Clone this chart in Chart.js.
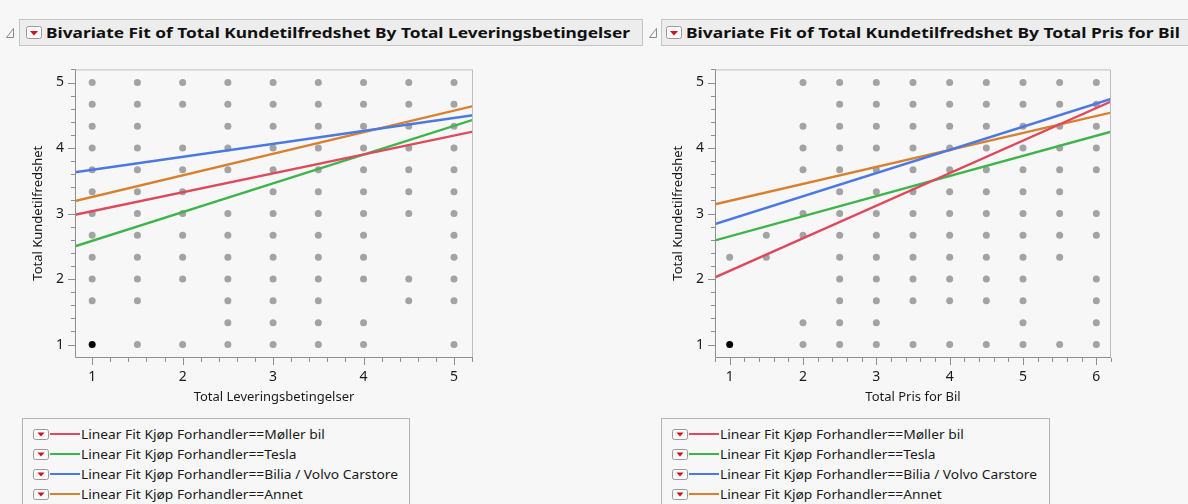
<!DOCTYPE html>
<html><head><meta charset="utf-8">
<script src="https://cdn.jsdelivr.net/npm/chart.js@4.4.1/dist/chart.umd.min.js"></script>
<style>
body{margin:0;width:1188px;height:504px;overflow:hidden;background:#f7f7f7;font-family:"Noto Sans",sans-serif;position:relative}
.hdr{position:absolute;top:19px;height:27px;border:1px solid #c4c4c4;background:#ededed;box-sizing:border-box}
.ttl{position:absolute;top:20px;height:25px;line-height:25px;font-weight:bold;font-size:15px;white-space:nowrap;transform-origin:0 50%;color:#111}
.ico{position:absolute}
.cv{position:absolute;top:50px}
.leg{position:absolute;top:418px;height:100px;border:1px solid #b4b4b4;box-sizing:border-box;background:#f7f7f7}
.row{position:absolute;left:0;height:20px;width:100%}
.row svg{position:absolute;left:10px;top:5px}
.row .ln{position:absolute;left:27px;top:9px;width:30px;height:2px}
.row span{position:absolute;left:58px;top:0;line-height:20px;font-size:13px;color:#1a1a1a;white-space:nowrap;transform-origin:0 50%}
</style></head><body>

<svg class="ico" style="left:5px;top:27px" width="10" height="12"><path d="M1.5 10.5 L8.5 1.5 L8.5 10.5 Z" fill="none" stroke="#8a8a8a" stroke-width="1"/></svg>
<div class="hdr" style="left:19px;width:624px"></div>
<svg class="ico" style="left:26px;top:26px" width="17" height="14"><rect x="0.5" y="0.5" width="15" height="12" rx="2" fill="#fafafa" stroke="#9a9a9a"/><path d="M4 5 L12 5 L8 9.5 Z" fill="#d0101a"/></svg>
<div class="ttl" id="t1" style="left:46px">Bivariate Fit of Total Kundetilfredshet By Total Leveringsbetingelser</div>

<svg class="ico" style="left:648px;top:27px" width="10" height="12"><path d="M1.5 10.5 L8.5 1.5 L8.5 10.5 Z" fill="none" stroke="#8a8a8a" stroke-width="1"/></svg>
<div class="hdr" style="left:661px;width:540px"></div>
<svg class="ico" style="left:666px;top:26px" width="17" height="14"><rect x="0.5" y="0.5" width="15" height="12" rx="2" fill="#fafafa" stroke="#9a9a9a"/><path d="M4 5 L12 5 L8 9.5 Z" fill="#d0101a"/></svg>
<div class="ttl" id="t2" style="left:686px">Bivariate Fit of Total Kundetilfredshet By Total Pris for Bil</div>

<canvas id="c1" class="cv" style="left:0px" width="490" height="360"></canvas>
<canvas id="c2" class="cv" style="left:640px" width="490" height="360"></canvas>

<div class="leg" id="leg1" style="left:22px;width:388px"></div>
<div class="leg" id="leg2" style="left:661px;width:389px"></div>

<script>
// ---------- data ----------
const yLevels = [5, 4.667, 4.333, 4, 3.667, 3.333, 3, 2.667, 2.333, 2, 1.667, 1.333, 1];

// x values present in each y row (Total Leveringsbetingelser)
const leftRows = [
  [1, 1.5, 2, 2.5, 3, 3.5, 4, 4.5, 5],
  [1, 1.5, 2, 2.5, 3, 3.5, 4, 4.5, 5],
  [1, 1.5, 2.5, 3, 3.5, 4, 4.5, 5],
  [1, 1.5, 2, 2.5, 3, 3.5, 4, 4.5, 5],
  [1, 1.5, 2, 2.5, 3, 3.5, 4, 4.5, 5],
  [1, 1.5, 2, 3, 3.5, 4, 4.5, 5],
  [1, 1.5, 2, 2.5, 3, 3.5, 4, 4.5, 5],
  [1, 1.5, 2, 2.5, 3, 3.5, 4, 5],
  [1, 1.5, 2, 2.5, 3, 3.5, 4, 5],
  [1, 1.5, 2, 2.5, 3, 3.5, 4, 4.5, 5],
  [1, 1.5, 2.5, 3, 3.5, 4.5, 5],
  [2.5, 3, 3.5, 4],
  [1.5, 2, 2.5, 3, 3.5, 4, 5]
];

// x values present in each y row (Total Pris for Bil)
const rightRows = [
  [2, 2.5, 3, 3.5, 4, 4.5, 5, 5.5, 6],
  [2.5, 3, 3.5, 4, 4.5, 5, 5.5, 6],
  [2, 2.5, 3, 3.5, 4, 4.5, 5, 5.5, 6],
  [2, 2.5, 3, 3.5, 4, 4.5, 5, 5.5, 6],
  [2, 2.5, 3, 3.5, 4, 4.5, 5, 5.5, 6],
  [2.5, 3, 3.5, 4, 4.5, 5, 5.5],
  [2, 2.5, 3, 3.5, 4, 4.5, 5, 5.5, 6],
  [1.5, 2, 2.5, 3, 3.5, 4, 4.5, 5, 5.5, 6],
  [1, 1.5, 2.5, 3, 3.5, 4, 4.5, 5, 5.5],
  [2.5, 3, 3.5, 4, 4.5, 5, 6],
  [2.5, 3, 3.5, 4, 4.5, 5, 6],
  [2, 2.5, 3, 5, 6],
  [2, 2.5, 3, 3.5, 4, 4.5, 5, 5.5, 6]
];

const selectedPoint = [{x: 1, y: 1}];

const fitNames = ['Møller bil', 'Tesla', 'Bilia / Volvo Carstore', 'Annet'];
const fitColors = ['#de4a5c', '#3db54a', '#4a78e4', '#d8802e'];

const leftFitX = [0.81, 5.21];
const leftFitY = [[2.98, 4.25], [2.50, 4.43], [3.63, 4.50], [3.19, 4.64]];
const rightFitX = [0.80, 6.2];
const rightFitY = [[2.025, 4.71], [2.59, 4.25], [2.84, 4.75], [3.14, 4.54]];

const leftXRange = [0.81, 5.21];
const rightXRange = [0.80, 6.2];
const yRange = [0.81, 5.2];

const leftXTicks = [1, 2, 3, 4, 5];
const rightXTicks = [1, 2, 3, 4, 5, 6];
const yTicks = [1, 2, 3, 4, 5];

const yTitle = 'Total Kundetilfredshet';
const leftXTitle = 'Total Leveringsbetingelser';
const rightXTitle = 'Total Pris for Bil';

// ---------- build ----------
function rowsToPoints(rows) {
  const pts = [];
  rows.forEach((xs, i) => xs.forEach(x => pts.push({x: x, y: yLevels[i]})));
  return pts;
}

const frameTicks = {
  id: 'frameTicks',
  afterDraw(chart) {
    const {ctx, chartArea: a, scales: {x, y}} = chart;
    ctx.save();
    ctx.lineWidth = 1;
    ctx.strokeStyle = '#bdbdbd';
    ctx.beginPath();
    ctx.moveTo(a.left, a.top + 0.5); ctx.lineTo(a.right - 0.5, a.top + 0.5); ctx.lineTo(a.right - 0.5, a.bottom);
    ctx.stroke();
    ctx.strokeStyle = '#8f8f8f';
    ctx.beginPath();
    ctx.moveTo(a.left + 0.5, a.top); ctx.lineTo(a.left + 0.5, a.bottom + 0.5); ctx.lineTo(a.right, a.bottom + 0.5);
    ctx.stroke();
    ctx.beginPath();
    for (let k = Math.ceil(x.min * 5 - 1e-9); k <= Math.floor(x.max * 5 + 1e-9); k++) {
      const px = Math.round(x.getPixelForValue(k / 5)) + 0.5;
      const len = (k % 5 === 0) ? 7 : 4;
      ctx.moveTo(px, a.bottom + 1); ctx.lineTo(px, a.bottom + 1 + len);
    }
    for (let k = Math.ceil(y.min * 5 - 1e-9); k <= Math.floor(y.max * 5 + 1e-9); k++) {
      const py = Math.round(y.getPixelForValue(k / 5)) + 0.5;
      const len = (k % 5 === 0) ? 7 : 4;
      ctx.moveTo(a.left, py); ctx.lineTo(a.left - len, py);
    }
    ctx.stroke();
    ctx.restore();
  }
};

function makeChart(id, rows, fitX, fitY, xRange, xTicks, xTitle, rightPad) {
  const datasets = [];
  fitY.forEach((ys, i) => datasets.push({
    type: 'line', label: fitNames[i],
    data: [{x: fitX[0], y: ys[0]}, {x: fitX[1], y: ys[1]}],
    borderColor: fitColors[i], borderWidth: 2.4, pointRadius: 0, fill: false, order: 0
  }));
  datasets.push({
    type: 'scatter', label: 'selected', data: selectedPoint,
    backgroundColor: '#000', borderColor: '#000', pointRadius: 3.5, borderWidth: 0, order: 1
  });
  datasets.push({
    type: 'scatter', label: 'points', data: rowsToPoints(rows),
    backgroundColor: '#a3a3a3', borderColor: '#a3a3a3', pointRadius: 3.5, borderWidth: 0, order: 2
  });
  const tickFont = {family: 'Noto Sans', size: 14};
  const titleFont = {family: 'Noto Sans', size: 13};
  return new Chart(document.getElementById(id), {
    type: 'scatter',
    data: {datasets},
    options: {
      responsive: false, animation: false,
      layout: {padding: {top: 8, right: rightPad, left: 0, bottom: 0}},
      plugins: {legend: {display: false}, tooltip: {enabled: false}},
      scales: {
        x: {
          type: 'linear', min: xRange[0], max: xRange[1],
          afterBuildTicks(s) { s.ticks = xTicks.map(v => ({value: v})); },
          afterFit(s) { s.height = 53; },
          grid: {display: false, drawTicks: false}, border: {display: false},
          ticks: {autoSkip: false, maxRotation: 0, padding: 12, font: tickFont, color: '#1a1a1a', callback: v => String(v)},
          title: {display: true, text: xTitle, font: titleFont, color: '#1a1a1a', padding: {top: 2, bottom: 5}}
        },
        y: {
          type: 'linear', min: yRange[0], max: yRange[1],
          afterBuildTicks(s) { s.ticks = yTicks.map(v => ({value: v})); },
          afterFit(s) { s.width = 75; },
          grid: {display: false, drawTicks: false}, border: {display: false},
          ticks: {autoSkip: false, padding: 11, font: tickFont, color: '#1a1a1a', callback: v => String(v)},
          title: {display: true, text: yTitle, font: titleFont, color: '#1a1a1a', padding: {top: 30, bottom: 2}}
        }
      }
    },
    plugins: [frameTicks]
  });
}

makeChart('c1', leftRows, leftFitX, leftFitY, leftXRange, leftXTicks, leftXTitle, 17);
makeChart('c2', rightRows, rightFitX, rightFitY, rightXRange, rightXTicks, rightXTitle, 19);

// ---------- legends ----------
function buildLegend(id) {
  const box = document.getElementById(id);
  fitNames.forEach((n, i) => {
    const r = document.createElement('div');
    r.className = 'row';
    r.style.top = (5 + i * 20) + 'px';
    r.innerHTML = '<svg width="17" height="11"><rect x="0.5" y="0.5" width="15" height="10" rx="2" fill="#fafafa" stroke="#9a9a9a"/><path d="M4.5 3.5 L11.5 3.5 L8 7.5 Z" fill="#d0101a"/></svg>' +
      '<div class="ln" style="background:' + fitColors[i] + '"></div>' +
      '<span>Linear Fit Kjøp Forhandler==' + n + '</span>';
    box.appendChild(r);
  });
}
buildLegend('leg1');
buildLegend('leg2');

// fit text widths to reference
function fitW(el, target) {
  const w = el.getBoundingClientRect().width;
  if (w > 0) el.style.transform = 'scaleX(' + (target / w) + ')';
}
fitW(document.getElementById('t1'), 584);
fitW(document.getElementById('t2'), 494);
document.querySelectorAll('.leg').forEach(box => {
  const spans = box.querySelectorAll('span');
  const w = spans[2].getBoundingClientRect().width;
  const s = 317 / w;
  spans.forEach(sp => sp.style.transform = 'scaleX(' + s + ')');
});
</script>
</body></html>
